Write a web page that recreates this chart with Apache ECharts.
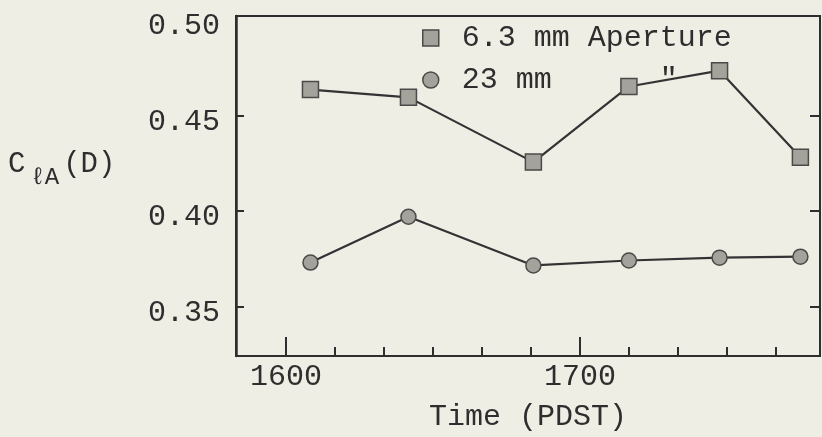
<!DOCTYPE html>
<html>
<head>
<meta charset="utf-8">
<script src="https://cdn.jsdelivr.net/npm/echarts@6/dist/echarts.min.js"></script>
<style>
  html, body { margin: 0; padding: 0; background: #efeee5; }
  #chart { width: 822px; height: 437px; }
</style>
</head>
<body>
<div id="chart"></div>
<script>
// Observation times, in minutes after 1600 PDST
const timeMinutes = [5, 25, 50.5, 70, 88.5, 105];
// C_lA(D) for each aperture
const aperture63 = [0.4635, 0.4594, 0.4255, 0.4651, 0.4734, 0.4281];
const aperture23 = [0.3729, 0.3969, 0.3714, 0.3740, 0.3755, 0.3760];
const seriesNames = ['6.3 mm Aperture', '23 mm      "'];
// Axis ticks and labels
const yTickValues = [0.35, 0.40, 0.45];
const yLabelValues = [0.35, 0.40, 0.45, 0.50];
const xMajorTicks = [0, 60];
const xMajorLabels = ['1600', '1700'];
const xMinorTicks = [10, 20, 30, 40, 50, 70, 80, 90, 100];

const FONT = '"Liberation Mono", "DejaVu Sans Mono", monospace';
const INK = '#2e2e2e';
const MARK_FILL = '#a3a39c';
const MARK_EDGE = '#4a4a48';

const chart = echarts.init(document.getElementById('chart'), null, { renderer: 'canvas' });

const pairs = (xs, ys) => xs.map((x, i) => [x, ys[i]]);

const xRange = { min: -10.2, max: 109 };
const yRange = { min: 0.324, max: 0.502 };

chart.setOption({
  backgroundColor: '#efeee5',
  animation: false,
  grid: {
    left: 236, right: 2, top: 16, bottom: 79,
    show: true, borderColor: INK, borderWidth: 2, backgroundColor: 'transparent'
  },
  legend: {
    orient: 'vertical',
    left: 417, top: 14,
    itemWidth: 16, itemHeight: 16, itemGap: 4,
    textStyle: { fontFamily: FONT, fontSize: 30, color: INK, lineHeight: 32, padding: [6, 0, 0, 18] },
    selectedMode: false,
    data: [
      { name: seriesNames[0], icon: 'rect', itemStyle: { color: MARK_FILL, borderColor: MARK_EDGE, borderWidth: 1.5 } },
      { name: seriesNames[1], icon: 'circle', itemStyle: { color: MARK_FILL, borderColor: MARK_EDGE, borderWidth: 1.5 } }
    ]
  },
  xAxis: [
    {
      type: 'value', position: 'bottom', min: xRange.min, max: xRange.max,
      axisLine: { show: true, onZero: false, lineStyle: { color: INK, width: 2 } },
      axisTick: { show: true, inside: true, length: 19, customValues: xMajorTicks, lineStyle: { color: INK, width: 2 } },
      axisLabel: {
        show: true, customValues: xMajorTicks, margin: 6,
        fontFamily: FONT, fontSize: 30, color: INK,
        formatter: v => xMajorLabels[xMajorTicks.indexOf(v)] ?? ''
      },
      splitLine: { show: false },
      name: 'Time (PDST)', nameLocation: 'middle', nameGap: 46,
      nameTextStyle: { fontFamily: FONT, fontSize: 30, color: INK }
    },
    {
      type: 'value', position: 'bottom', min: xRange.min, max: xRange.max,
      axisLine: { show: false, onZero: false },
      axisTick: { show: true, inside: true, length: 9, customValues: xMinorTicks, lineStyle: { color: INK, width: 2 } },
      axisLabel: { show: false },
      splitLine: { show: false }
    }
  ],
  yAxis: [
    {
      type: 'value', position: 'left', min: yRange.min, max: yRange.max,
      axisLine: { show: true, onZero: false, lineStyle: { color: INK, width: 2.5 } },
      axisTick: { show: true, inside: true, length: 8, customValues: yTickValues, lineStyle: { color: INK, width: 2 } },
      axisLabel: {
        show: true, customValues: yLabelValues, margin: 16,
        formatter: v => '{t|' + v.toFixed(2) + '}',
        rich: {
          t: { fontFamily: FONT, fontSize: 30, color: INK, padding: [13, 0, 0, 0] }
        }
      },
      splitLine: { show: false }
    },
    {
      type: 'value', position: 'right', min: yRange.min, max: yRange.max,
      axisLine: { show: true, onZero: false, lineStyle: { color: INK, width: 2 } },
      axisTick: { show: true, inside: true, length: 10, customValues: yTickValues, lineStyle: { color: INK, width: 2 } },
      axisLabel: { show: false },
      splitLine: { show: false }
    }
  ],
  series: [
    {
      name: seriesNames[0], type: 'line', xAxisIndex: 0, yAxisIndex: 0,
      data: pairs(timeMinutes, aperture63),
      symbol: 'rect', symbolSize: 16,
      lineStyle: { color: '#333', width: 2.2 },
      itemStyle: { color: MARK_FILL, borderColor: MARK_EDGE, borderWidth: 1.5 },
      z: 3
    },
    {
      name: seriesNames[1], type: 'line', xAxisIndex: 0, yAxisIndex: 0,
      data: pairs(timeMinutes, aperture23),
      symbol: 'circle', symbolSize: 15,
      lineStyle: { color: '#333', width: 2.2 },
      itemStyle: { color: MARK_FILL, borderColor: MARK_EDGE, borderWidth: 1.5 },
      z: 3
    }
  ],
  graphic: [
    {
      type: 'text', left: 8, top: 150,
      style: {
        text: '{c|C}{s|ℓA}{c|(D)}',
        fill: INK,
        rich: {
          c: { fontFamily: FONT, fontSize: 29, color: INK, verticalAlign: 'middle' },
          s: { fontFamily: FONT, fontSize: 24, color: INK, padding: [26, 4, 0, 5], verticalAlign: 'middle' }
        }
      }
    }
  ]
});
</script>
</body>
</html>
